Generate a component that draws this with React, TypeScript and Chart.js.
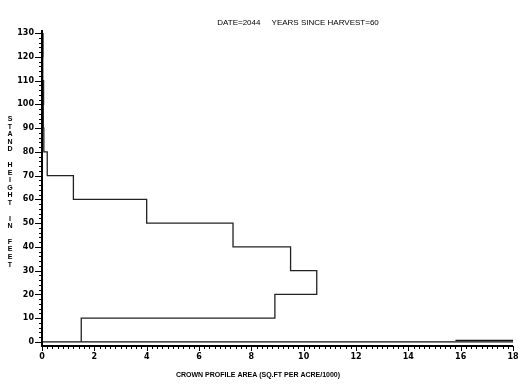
import React, { useEffect, useRef } from 'react';
import { Chart, registerables } from 'chart.js';
Chart.register(...registerables);

// Stand height layers (feet) and crown profile area per layer (sq.ft per acre / 1000)
const layerBottoms = [0, 10, 20, 30, 40, 50, 60, 70, 80, 90, 100, 110, 120];
const topHeight = 130;
const crownArea = [1.5, 8.9, 10.5, 9.5, 7.3, 4.0, 1.2, 0.2, 0.07, 0.05, 0.06, 0.03, 0.04];
// ground line and low residual line
const groundX = [0, 18];
const groundY = [0, 0];
const litterX = [15.8, 18];
const litterY = [0.7, 0.7];

const xTicks = [0, 2, 4, 6, 8, 10, 12, 14, 16, 18];
const yTicks = [0, 10, 20, 30, 40, 50, 60, 70, 80, 90, 100, 110, 120, 130];
const titleText = 'DATE=2044     YEARS SINCE HARVEST=60';
const xTitle = 'CROWN PROFILE AREA (SQ.FT PER ACRE/1000)';
const yTitleWords = ['STAND', 'HEIGHT', 'IN', 'FEET'];

const axesPlugin = {
  id: 'sasAxes',
  afterDraw(chart: any) {
    const ctx = chart.ctx;
    const xs = chart.scales.x;
    const ys = chart.scales.y;
    const ax = xs.getPixelForValue(0);
    const ay = ys.bottom;
    ctx.save();
    ctx.strokeStyle = '#000';
    ctx.fillStyle = '#000';
    // axis lines
    ctx.lineWidth = 2;
    ctx.beginPath();
    ctx.moveTo(ax, ys.getPixelForValue(130) - 3);
    ctx.lineTo(ax, ay);
    ctx.lineTo(xs.getPixelForValue(18), ay);
    ctx.stroke();
    ctx.lineWidth = 1;
    // y ticks
    ctx.beginPath();
    for (let v = 0; v <= 130; v += 2) {
      const p = Math.round(ys.getPixelForValue(v)) + 0.5;
      const major = v % 10 === 0;
      ctx.moveTo(ax - (major ? 7 : 3), p);
      ctx.lineTo(ax, p);
    }
    // x ticks
    for (let i = 0; i <= 90; i++) {
      const v = i * 0.2;
      const p = Math.round(xs.getPixelForValue(v)) + 0.5;
      const major = i % 10 === 0;
      ctx.moveTo(p, ay);
      ctx.lineTo(p, ay + (major ? 5 : 3));
    }
    ctx.stroke();
    // tick labels
    ctx.font = 'bold 8px "DejaVu Sans"';
    ctx.textAlign = 'right';
    ctx.textBaseline = 'middle';
    yTicks.forEach((v) => ctx.fillText(String(v), ax - 8, ys.getPixelForValue(v)));
    ctx.textAlign = 'center';
    ctx.textBaseline = 'top';
    xTicks.forEach((v) => ctx.fillText(String(v), xs.getPixelForValue(v), ay + 7));
    // title
    ctx.font = '8px "Liberation Sans"';
    ctx.textBaseline = 'alphabetic';
    ctx.fillText(titleText, 298, 25);
    // x title
    ctx.font = 'bold 7px "Liberation Sans"';
    ctx.fillText(xTitle, 258, 377);
    // y title, stacked letters
    ctx.font = 'bold 7px "Liberation Sans"';
    ctx.textBaseline = 'middle';
    let y = 119;
    yTitleWords.forEach((w) => {
      for (const ch of w) {
        ctx.fillText(ch, 10, y);
        y += 7.6;
      }
      y += 8;
    });
    ctx.restore();
  },
};

export default function App() {
  const ref = useRef<HTMLCanvasElement>(null);
  useEffect(() => {
    document.body.style.margin = '0';
    const profile = layerBottoms.map((h, i) => ({ x: crownArea[i], y: h }));
    profile.push({ x: crownArea[crownArea.length - 1], y: topHeight });
    const ground = groundX.map((x, i) => ({ x, y: groundY[i] }));
    const litter = litterX.map((x, i) => ({ x, y: litterY[i] }));
    const chart = new Chart(ref.current!, {
      type: 'line',
      data: {
        datasets: [
          { data: profile, stepped: 'after', borderColor: '#222', borderWidth: 1.3, pointRadius: 0, fill: false },
          { data: ground, borderColor: '#111', borderWidth: 1.3, pointRadius: 0 },
          { data: litter, borderColor: '#111', borderWidth: 1.2, pointRadius: 0 },
        ],
      },
      options: {
        animation: false,
        responsive: false,
        events: [],
        layout: { padding: { left: 42, right: 16, top: 33, bottom: 39 } },
        plugins: { legend: { display: false }, tooltip: { enabled: false }, title: { display: false } },
        scales: {
          x: { type: 'linear', min: 0, max: 18, display: false },
          y: { type: 'linear', min: -1.7, max: 130, display: false },
        },
      },
      plugins: [axesPlugin],
    });
    return () => chart.destroy();
  }, []);
  return (
    <div style={{ width: 529, height: 385, background: '#fff' }}>
      <canvas ref={ref} width={529} height={385} />
    </div>
  );
}
